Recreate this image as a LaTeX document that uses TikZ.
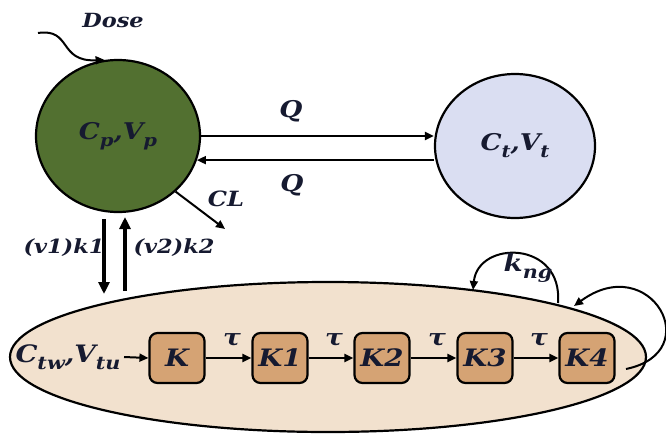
\documentclass[tikz,border=0pt]{standalone}
\usepackage{fontspec}
\setmainfont{DejaVu Serif}[FakeStretch=1.15]
\usetikzlibrary{shapes.geometric,arrows.meta}
\definecolor{pgreen}{RGB}{82,112,48}
\definecolor{bfill}{RGB}{218,222,242}
\definecolor{efill}{RGB}{242,225,206}
\definecolor{kfill}{RGB}{213,163,116}
\definecolor{ink}{RGB}{22,26,48}
\newcommand{\subsz}{17}
\newcommand{\sbs}[1]{\raisebox{-0.3em}{\fontsize{\subsz}{\subsz}\selectfont #1}}
\begin{document}
\begin{tikzpicture}[x=1pt,y=-1pt,
  txt/.style={text=ink,font=\fontsize{23}{27}\selectfont\bfseries\itshape},
  big/.style={text=ink,font=\fontsize{24}{28}\selectfont\bfseries\itshape\renewcommand{\subsz}{18}},
  sml/.style={text=ink,font=\fontsize{19.5}{23}\selectfont\bfseries\itshape},
  arr/.style={draw=black,line width=2pt,-{Triangle[length=9pt,width=8pt]}},
  varr/.style={draw=black,line width=3.5pt,-{Triangle[length=12pt,width=11pt]}},
  comp/.style={ellipse,draw=black,line width=2.2pt,inner sep=0pt},
  kbox/.style={draw=black,line width=2.2pt,fill=kfill,rounded corners=8pt,minimum width=55pt,minimum height=50pt,inner sep=0pt,big},
]
\useasboundingbox (0,0) rectangle (666,434);
% tumour compartment
\node[comp,fill=efill,minimum width=636pt,minimum height=150pt] (E) at (328,357) {};
% plasma and tissue
\node[comp,fill=pgreen,minimum width=164pt,minimum height=152pt,txt] (P) at (118,136) {C\sbs{p},V\sbs{p}};
\node[comp,fill=bfill,minimum width=160pt,minimum height=144pt,txt] (T) at (515,146) {C\sbs{t},V\sbs{t}};
% dose
\node[txt,font=\fontsize{19.5}{23}\selectfont\bfseries\itshape] (dose) at (113,21) {Dose};
\coordinate (ds) at (38,33);
\draw[arr] (ds) .. controls (72,28) and (58,62) .. (P.100);
% Q exchange
\draw[arr] (P.east) -- (P.east -| T.west);
\draw[arr] (T.west |- P.-17) -- (P.-17);
\node[txt] (Q1) at (291,111) {Q};
\node[txt] (Q2) at (292,185) {Q};
% clearance
\coordinate (cle) at (225,229);
\draw[arr] (P.-44) -- (cle);
\node[txt,font=\fontsize{21}{24}\selectfont\bfseries\itshape] (CL) at (226,199) {CL};
% exchange with tumour
\coordinate (d1) at (104,219);
\coordinate (d2) at (104,294);
\coordinate (u1) at (125,291);
\coordinate (u2) at (125,217);
\draw[varr] (d1) -- (d2);
\draw[varr] (u1) -- (u2);
\node[sml] (k1) at (64,248) {(v1)k1};
\node[sml] (k2) at (174,248) {(v2)k2};
% transit chain
\node[big] (C) at (68,357) {C\sbs{tw},V\sbs{tu}};
\node[kbox] (K) at (177,358) {K};
\node[kbox] (K1) at (280,358) {K1};
\node[kbox] (K2) at (382,358) {K2};
\node[kbox] (K3) at (485,358) {K3};
\node[kbox] (K4) at (587,358) {K4};
\draw[arr] (C.east) -- (K.west);
\draw[arr] (K) -- (K1);
\draw[arr] (K1) -- (K2);
\draw[arr] (K2) -- (K3);
\draw[arr] (K3) -- (K4);
\node[txt] (t1) at (232,340) {τ};
\node[txt] (t2) at (334,340) {τ};
\node[txt] (t3) at (437,340) {τ};
\node[txt] (t4) at (539,340) {τ};
% growth loops
\coordinate (g1s) at (558,303);
\coordinate (g1e) at (473,290);
\draw[arr] (g1s) .. controls (563,240) and (478,240) .. (g1e);
\node[big] (kng) at (528,268) {k\sbs{ng}};
\coordinate (g2s) at (626,369);
\coordinate (g2e) at (574,306);
\draw[arr] (g2s) .. controls (708,352) and (650,250) .. (g2e);
\end{tikzpicture}
\end{document}
